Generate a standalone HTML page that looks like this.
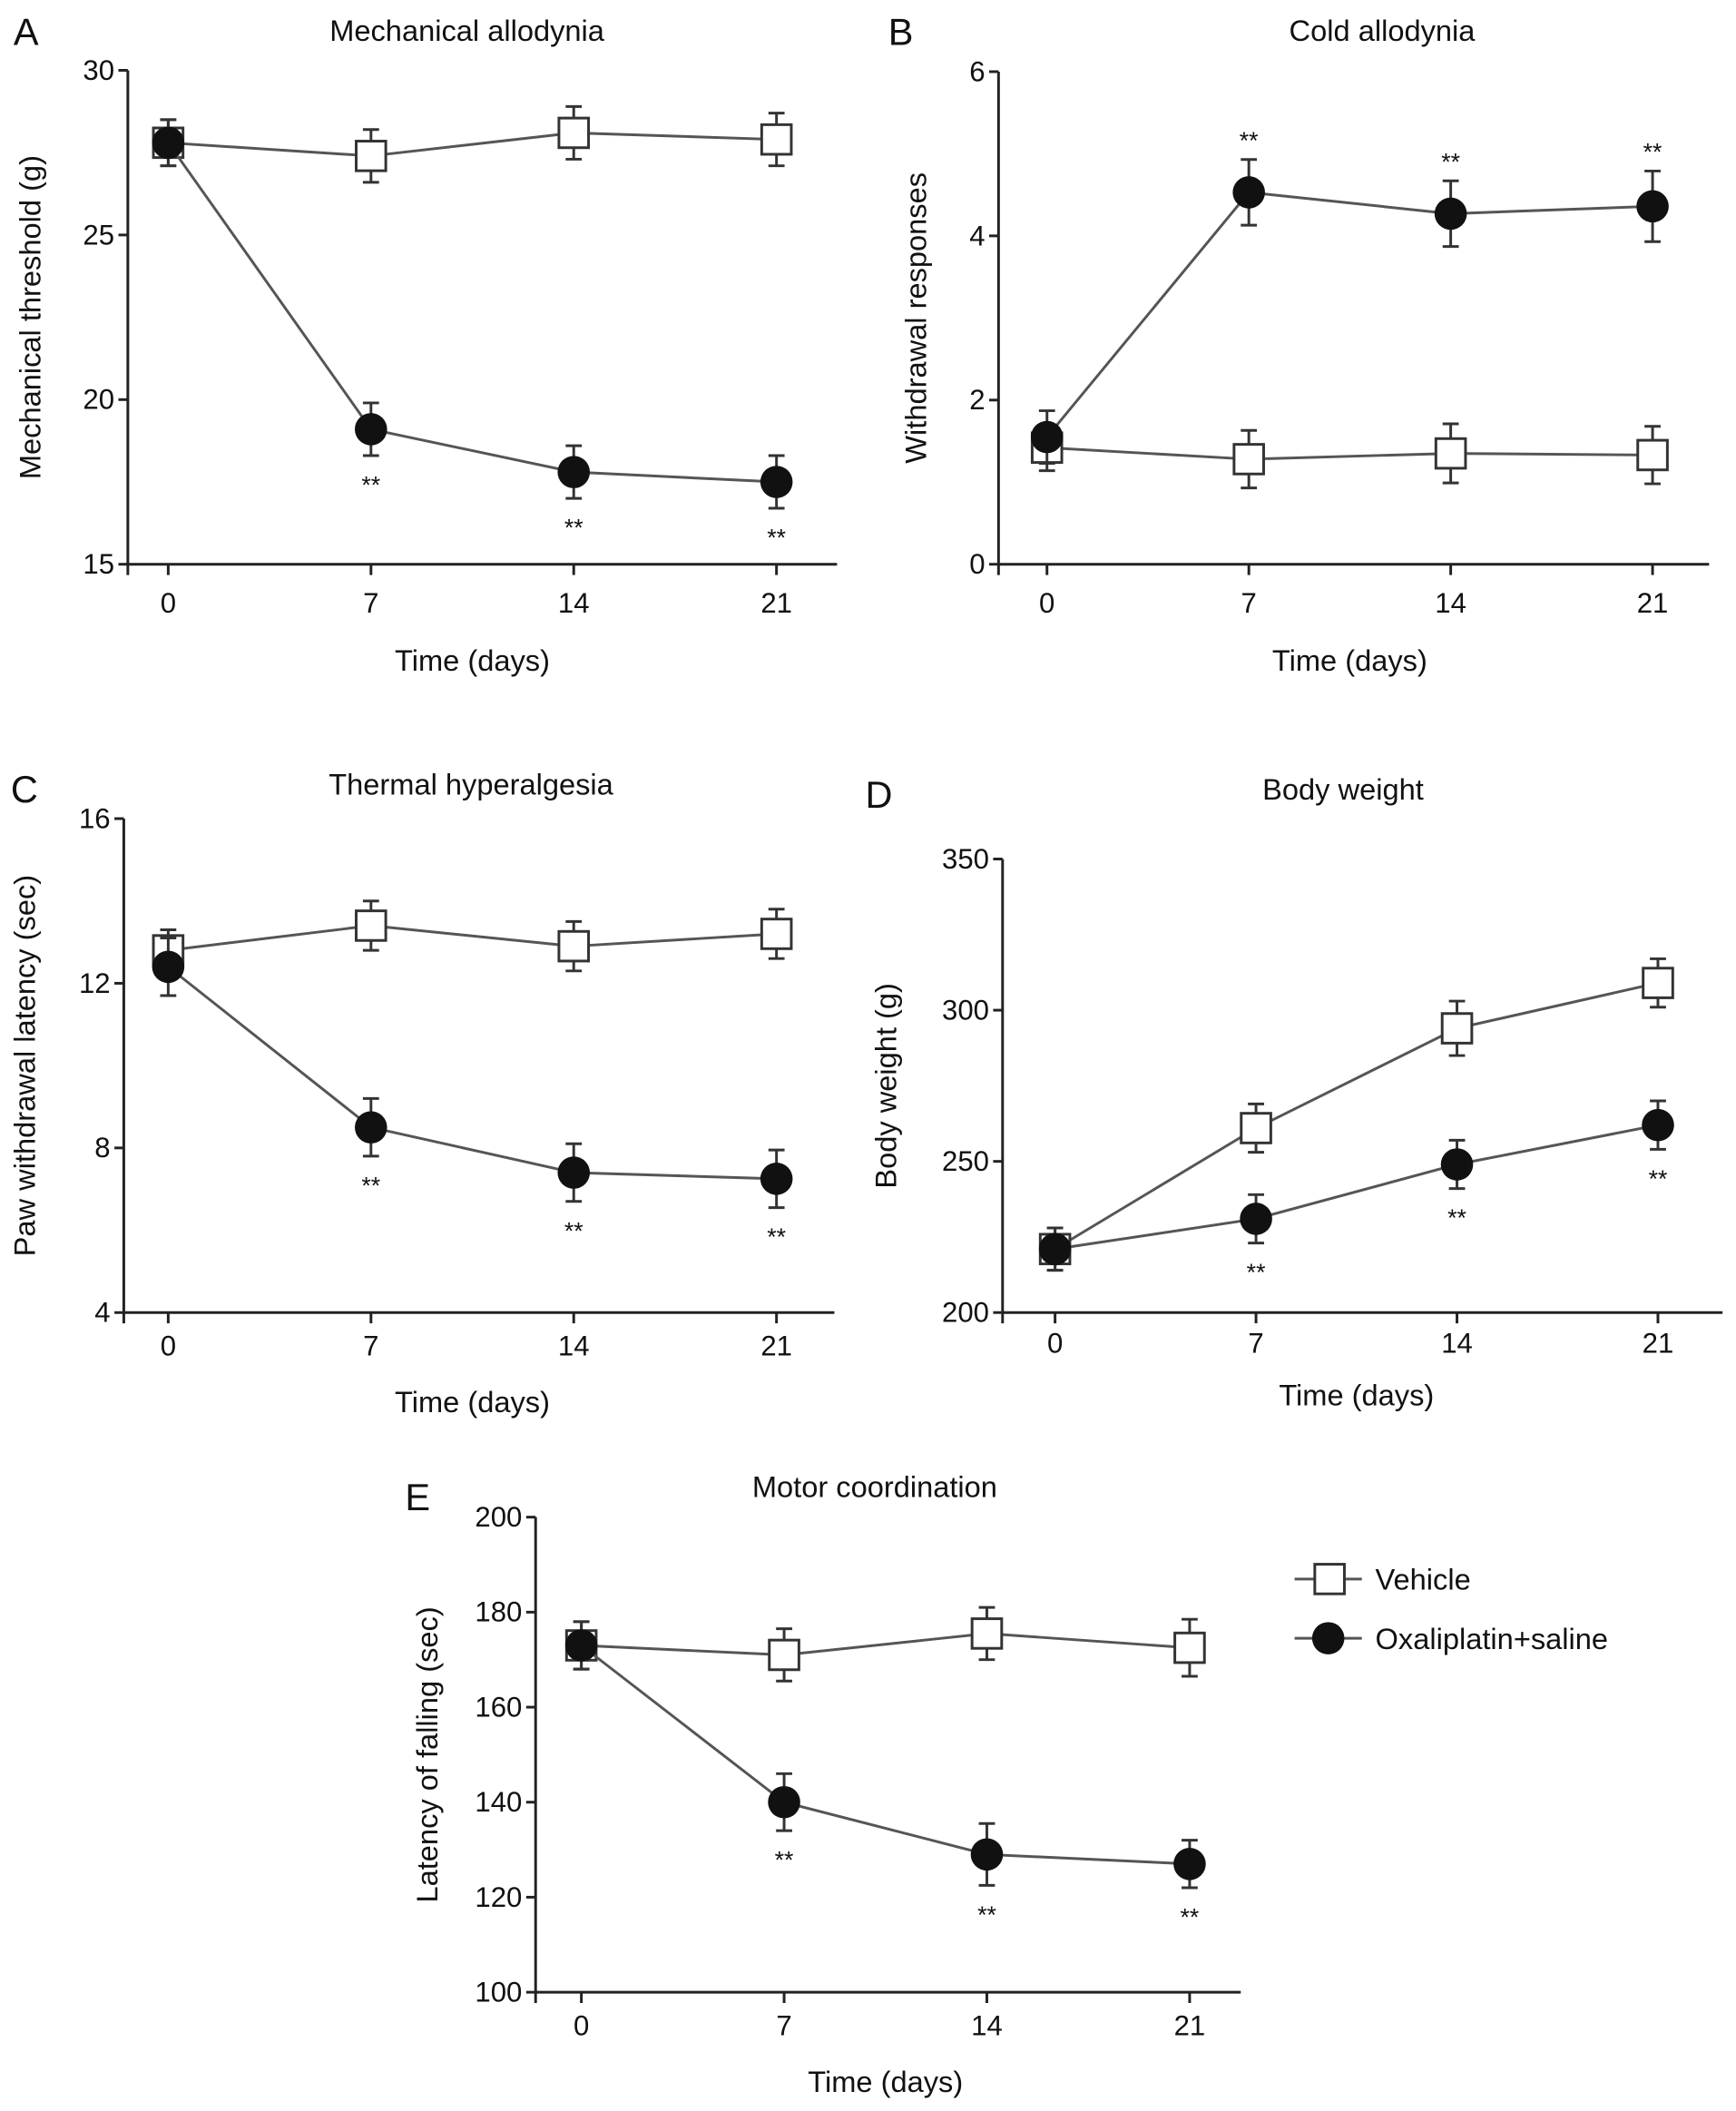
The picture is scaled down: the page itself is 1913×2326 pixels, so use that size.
<!DOCTYPE html>
<html><head><meta charset="utf-8"><style>
html,body{margin:0;padding:0;background:#fff}
svg{display:block}
text{font-family:"Liberation Sans",Arial,sans-serif;fill:#111}
</style></head><body>
<svg id="fig" width="1913" height="2326" viewBox="0 0 1290 1568" xmlns="http://www.w3.org/2000/svg">
<rect width="1290" height="1568" fill="#fff"/>
<g id="legend">
  <g>
    <line x1="962" y1="1173" x2="1012" y2="1173" stroke="#555" stroke-width="2"/>
    <rect x="977" y="1162" width="22" height="22" fill="#fff" stroke="#333" stroke-width="2"/>
    <text x="1022" y="1181" font-size="22">Vehicle</text>
  </g>
  <g>
    <line x1="962" y1="1217" x2="1012" y2="1217" stroke="#555" stroke-width="2"/>
    <circle cx="987" cy="1217" r="12" fill="#111"/>
    <text x="1022" y="1225" font-size="22">Oxaliplatin+saline</text>
  </g>
</g>
</svg>
<script>
const days = [0, 7, 14, 21];
const dayLabels = ["0", "7", "14", "21"];
// Panel A
const aVehicle = [27.8, 27.4, 28.1, 27.9];
const aVehicleErr = [0.7, 0.8, 0.8, 0.8];
const aOxali = [27.8, 19.1, 17.8, 17.5];
const aOxaliErr = [0.7, 0.8, 0.8, 0.8];
const aTicks = [15, 20, 25, 30];
// Panel B
const bVehicle = [1.42, 1.28, 1.35, 1.33];
const bVehicleErr = [0.28, 0.35, 0.36, 0.35];
const bOxali = [1.55, 4.53, 4.27, 4.36];
const bOxaliErr = [0.32, 0.4, 0.4, 0.43];
const bTicks = [0, 2, 4, 6];
// Panel C
const cVehicle = [12.8, 13.4, 12.9, 13.2];
const cVehicleErr = [0.5, 0.6, 0.6, 0.6];
const cOxali = [12.4, 8.5, 7.4, 7.25];
const cOxaliErr = [0.7, 0.7, 0.7, 0.7];
const cTicks = [4, 8, 12, 16];
// Panel D
const dVehicle = [221, 261, 294, 309];
const dVehicleErr = [7, 8, 9, 8];
const dOxali = [221, 231, 249, 262];
const dOxaliErr = [7, 8, 8, 8];
const dTicks = [200, 250, 300, 350];
// Panel E
const eVehicle = [173, 171, 175.5, 172.5];
const eVehicleErr = [5, 5.5, 5.5, 6];
const eOxali = [173, 140, 129, 127];
const eOxaliErr = [5, 6, 6.5, 5];
const eTicks = [100, 120, 140, 160, 180, 200];

const NS = "http://www.w3.org/2000/svg";
const svg = document.getElementById("fig");
function mk(tag, attrs, parent, txt){
  const e = document.createElementNS(NS, tag);
  for (const k in attrs) e.setAttribute(k, attrs[k]);
  if (txt !== undefined) e.textContent = txt;
  parent.appendChild(e);
  return e;
}

const panels = [
 {id:"a", letter:"A", lx:10, ly:33, title:"Mechanical allodynia", tx:347, ty:30, yTitle:"Mechanical threshold (g)", ytx:30,
  ax:95, top:52, bot:419, x0:125, x21:577, xend:622, ymin:15, ymax:30, ticks:aTicks,
  veh:aVehicle, vehE:aVehicleErr, ox:aOxali, oxE:aOxaliErr, star:"below", tly:455, xty:498},
 {id:"b", letter:"B", lx:660, ly:33, title:"Cold allodynia", tx:1027, ty:30, yTitle:"Withdrawal responses", ytx:688,
  ax:742, top:53, bot:419, x0:778, x21:1228, xend:1270, ymin:0, ymax:6, ticks:bTicks,
  veh:bVehicle, vehE:bVehicleErr, ox:bOxali, oxE:bOxaliErr, star:"above", tly:455, xty:498},
 {id:"c", letter:"C", lx:8, ly:596, title:"Thermal hyperalgesia", tx:350, ty:590, yTitle:"Paw withdrawal latency (sec)", ytx:26,
  ax:92, top:608, bot:975, x0:125, x21:577, xend:620, ymin:4, ymax:16, ticks:cTicks,
  veh:cVehicle, vehE:cVehicleErr, ox:cOxali, oxE:cOxaliErr, star:"below", tly:1007, xty:1049},
 {id:"d", letter:"D", lx:643, ly:600, title:"Body weight", tx:998, ty:594, yTitle:"Body weight (g)", ytx:666,
  ax:745, top:638, bot:975, x0:784, x21:1232, xend:1280, ymin:200, ymax:350, ticks:dTicks,
  veh:dVehicle, vehE:dVehicleErr, ox:dOxali, oxE:dOxaliErr, star:"below", tly:1005, xty:1044},
 {id:"e", letter:"E", lx:301, ly:1122, title:"Motor coordination", tx:650, ty:1112, yTitle:"Latency of falling (sec)", ytx:325,
  ax:398, top:1127, bot:1480, x0:432, x21:884, xend:922, ymin:100, ymax:200, ticks:eTicks,
  veh:eVehicle, vehE:eVehicleErr, ox:eOxali, oxE:eOxaliErr, star:"below", tly:1512, xty:1554}
];

panels.forEach(p => {
  const g = mk("g", {}, svg);
  
  
  const xs = d => p.x0 + (d - days[0]) / (days[days.length-1] - days[0]) * (p.x21 - p.x0);
  const ys = v => p.bot - (v - p.ymin) / (p.ymax - p.ymin) * (p.bot - p.top);

  const L = mk("text", {x:p.lx, y:p.ly, "font-size":28}, g, p.letter);
  
  
  const T = mk("text", {x:p.tx, y:p.ty, "font-size":22, "text-anchor":"middle"}, g, p.title);
  
  

  const ya = mk("line", {x1:p.ax, y1:p.top, x2:p.ax, y2:p.bot+8, stroke:"#222", "stroke-width":2}, g);
  
  
  const xa = mk("line", {x1:p.ax, y1:p.bot, x2:p.xend, y2:p.bot, stroke:"#222", "stroke-width":2}, g);
  
  
  p.ticks.forEach(t => {
    mk("line", {x1:p.ax-7, y1:ys(t), x2:p.ax, y2:ys(t), stroke:"#222", "stroke-width":2}, g);
    const tl = mk("text", {x:p.ax-10, y:ys(t)+7, "font-size":21, "text-anchor":"end"}, g, String(t));
    
    
  });
  days.forEach((d,i) => {
    mk("line", {x1:xs(d), y1:p.bot, x2:xs(d), y2:p.bot+8, stroke:"#222", "stroke-width":2}, g);
    const tl = mk("text", {x:xs(d), y:p.tly, "font-size":21, "text-anchor":"middle"}, g, dayLabels[i]);
    
    
  });
  const xt = mk("text", {x:(p.x0+p.x21)/2, y:p.xty, "font-size":22, "text-anchor":"middle"}, g, "Time (days)");
  
  
  const ymid = (p.top+p.bot)/2;
  const yt = mk("text", {x:p.ytx, y:ymid, "font-size":22, "text-anchor":"middle", transform:`rotate(-90 ${p.ytx} ${ymid})`}, g, p.yTitle);
  
  

  function series(vals, errs, kind){
    const sg = mk("g", {}, g);
    
    
    mk("polyline", {points: vals.map((v,i)=>xs(days[i])+","+ys(v)).join(" "), fill:"none", stroke:"#555", "stroke-width":2}, sg);
    vals.forEach((v,i) => {
      const x = xs(days[i]);
      const hi = ys(v+errs[i]), lo = ys(v-errs[i]);
      mk("line", {x1:x, y1:hi, x2:x, y2:lo, stroke:"#333", "stroke-width":2}, sg);
      mk("line", {x1:x-6, y1:hi, x2:x+6, y2:hi, stroke:"#333", "stroke-width":2}, sg);
      mk("line", {x1:x-6, y1:lo, x2:x+6, y2:lo, stroke:"#333", "stroke-width":2}, sg);
      let m;
      if (kind === "sq") m = mk("rect", {x:x-11, y:ys(v)-11, width:22, height:22, fill:"#fff", stroke:"#333", "stroke-width":2}, sg);
      else m = mk("circle", {cx:x, cy:ys(v), r:12, fill:"#111"}, sg);
      
      
    });
  }
  series(p.veh, p.vehE, "sq");
  series(p.ox, p.oxE, "ci");

  p.ox.forEach((v,i) => {
    if (i === 0) return;
    const x = xs(days[i]);
    const y = p.star === "below" ? ys(v - p.oxE[i]) + 28 : ys(v + p.oxE[i]) - 8;
    const s = mk("text", {x:x, y:y, "font-size":18, "text-anchor":"middle"}, g, "**");
    
    
  });
});
</script>
</body></html>
